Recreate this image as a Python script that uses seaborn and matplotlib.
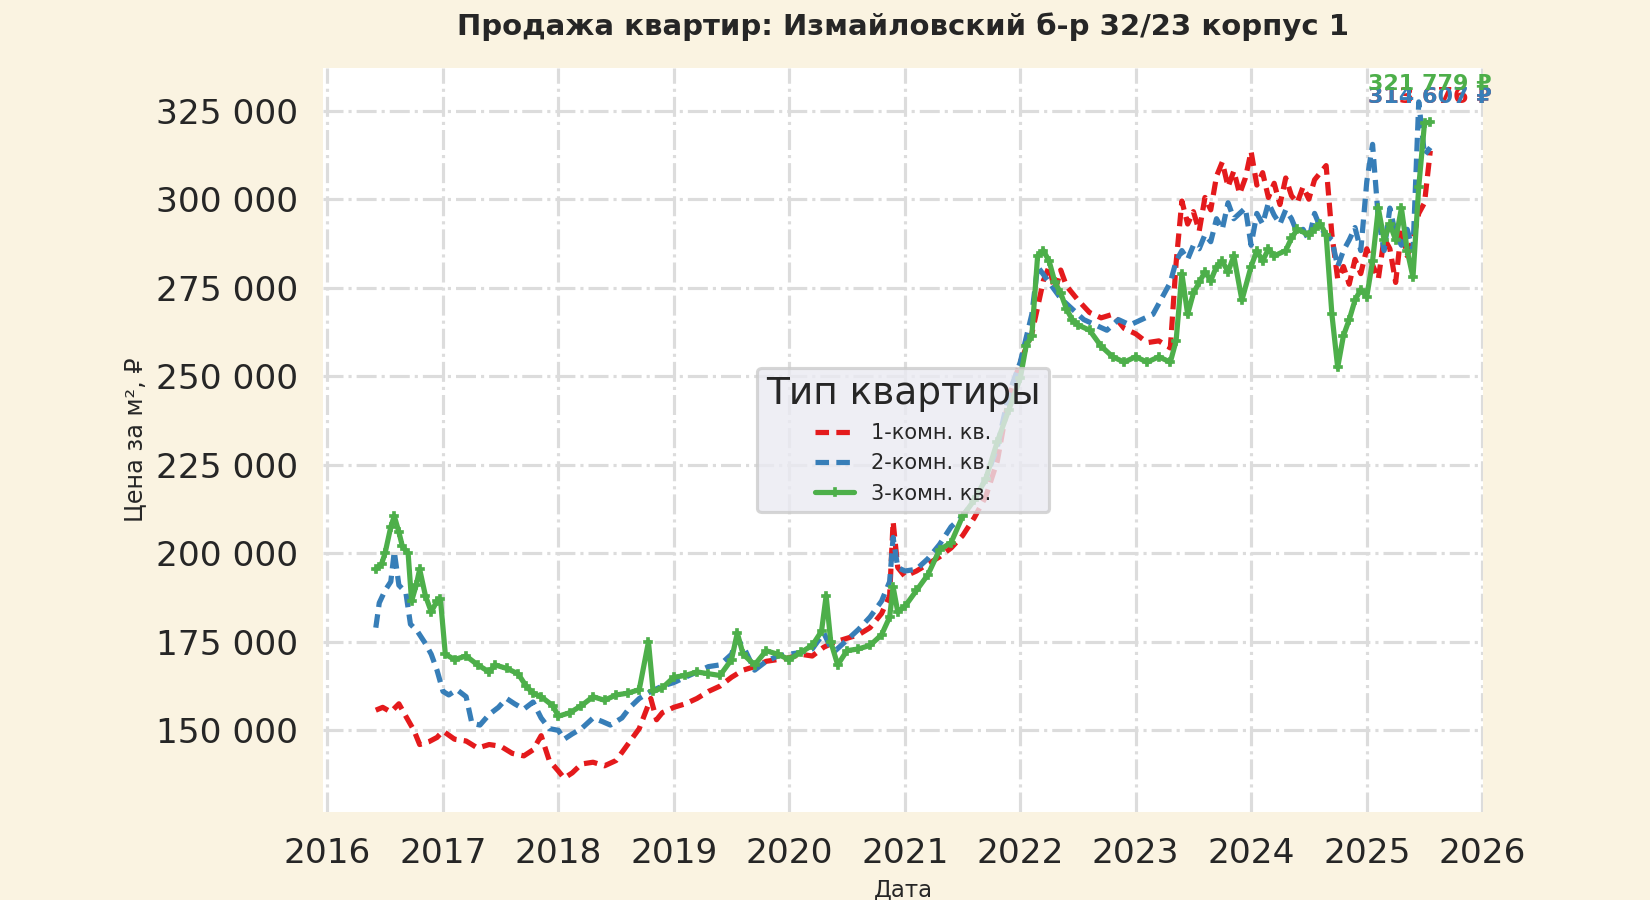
import numpy as np
import pandas as pd
import seaborn as sns
import matplotlib.pyplot as plt
import matplotlib.dates as mdates
from matplotlib.ticker import MultipleLocator, FuncFormatter

TITLE = 'Продажа квартир: Измайловский б-р 32/23 корпус 1'
LEGEND_TITLE = 'Тип квартиры'
NAMES = ['1-комн. кв.', '2-комн. кв.', '3-комн. кв.']
COLORS = ['#E41A1C', '#377EB8', '#4DAF4A']

# dates as decimal years, prices per m2 in rubles
red_t = [2016.42, 2016.48, 2016.55, 2016.62, 2016.68, 2016.75, 2016.8, 2016.88, 2016.95,
         2017.0, 2017.1, 2017.2, 2017.3, 2017.4, 2017.5, 2017.6, 2017.7, 2017.78, 2017.85, 2017.92,
         2018.0, 2018.05, 2018.12, 2018.2, 2018.3, 2018.4, 2018.5, 2018.6, 2018.7, 2018.8, 2018.85, 2018.9,
         2019.0, 2019.1, 2019.2, 2019.3, 2019.4, 2019.5, 2019.6, 2019.7, 2019.8, 2019.9,
         2020.0, 2020.1, 2020.2, 2020.3, 2020.4, 2020.5, 2020.6, 2020.7, 2020.8, 2020.87, 2020.9, 2020.94,
         2021.0, 2021.1, 2021.2, 2021.3, 2021.4, 2021.5, 2021.6, 2021.7, 2021.8, 2021.9,
         2022.0, 2022.1, 2022.2, 2022.25, 2022.3, 2022.35, 2022.4, 2022.5, 2022.6, 2022.7, 2022.8, 2022.9,
         2023.0, 2023.1, 2023.2, 2023.3, 2023.35, 2023.4, 2023.45, 2023.5, 2023.55, 2023.6, 2023.65,
         2023.7, 2023.75, 2023.8, 2023.85, 2023.9, 2023.95,
         2024.0, 2024.05, 2024.1, 2024.15, 2024.2, 2024.25, 2024.3, 2024.35, 2024.4, 2024.45, 2024.5,
         2024.55, 2024.6, 2024.65, 2024.7, 2024.75, 2024.8, 2024.85, 2024.9, 2024.95,
         2025.0, 2025.05, 2025.1, 2025.15, 2025.2, 2025.25, 2025.3, 2025.35, 2025.4, 2025.45, 2025.5, 2025.55]
red_v = [155700, 156500, 155200, 157500, 154000, 150000, 146000, 146800, 148000,
         149800, 147500, 147000, 145000, 146000, 145500, 143500, 142800, 144500, 148500, 141500,
         138500, 136500, 138000, 140500, 141000, 140000, 141500, 146000, 150500, 159000, 153000, 155000,
         156500, 157500, 159000, 161000, 162500, 165000, 167000, 168000, 169500, 170000,
         170500, 171500, 171000, 173500, 175000, 176000, 177000, 179000, 183000, 188000, 209000, 196000,
         193500, 195000, 197000, 199000, 201500, 205000, 210000, 216000, 226000, 244000,
         254000, 262000, 277000, 281000, 274000, 280000, 275500, 271500, 268000, 266500, 267500, 263500,
         262000, 259500, 260000, 258000, 282000, 299500, 293000, 296500, 291000, 300500, 297000,
         306500, 310500, 303500, 308000, 301500, 306000,
         313500, 304000, 307500, 300500, 304500, 298500, 306000, 301000, 299000, 303500, 300000,
         305500, 307500, 309500, 290000, 277500, 281000, 276000, 283000, 279000,
         286000, 281500, 277500, 289000, 286000, 276500, 291500, 284000, 288500, 296000, 299000, 313676]

blue_t = [2016.42, 2016.45, 2016.5, 2016.55, 2016.58, 2016.62, 2016.68, 2016.72, 2016.78, 2016.85, 2016.9, 2016.95,
          2017.0, 2017.05, 2017.12, 2017.2, 2017.25, 2017.32, 2017.4, 2017.48, 2017.55, 2017.62, 2017.7,
          2017.78, 2017.85, 2017.92,
          2018.0, 2018.05, 2018.12, 2018.2, 2018.3, 2018.38, 2018.45, 2018.55, 2018.62, 2018.7, 2018.8, 2018.9,
          2019.0, 2019.1, 2019.2, 2019.3, 2019.4, 2019.5, 2019.55, 2019.62, 2019.7, 2019.8, 2019.9,
          2020.0, 2020.1, 2020.2, 2020.3, 2020.35, 2020.4, 2020.5, 2020.6, 2020.7, 2020.8, 2020.87, 2020.9, 2020.94,
          2021.0, 2021.1, 2021.2, 2021.3, 2021.4, 2021.5, 2021.6, 2021.7, 2021.8, 2021.9,
          2022.0, 2022.1, 2022.15, 2022.25, 2022.35, 2022.45, 2022.55, 2022.65, 2022.75, 2022.85, 2022.95,
          2023.05, 2023.15, 2023.25, 2023.3, 2023.35, 2023.4, 2023.45, 2023.5, 2023.55, 2023.6, 2023.65,
          2023.7, 2023.75, 2023.8, 2023.85, 2023.9, 2023.95,
          2024.0, 2024.05, 2024.1, 2024.15, 2024.2, 2024.25, 2024.3, 2024.35, 2024.4, 2024.45, 2024.5,
          2024.55, 2024.6, 2024.65, 2024.7, 2024.75, 2024.8, 2024.85, 2024.9, 2024.95,
          2025.0, 2025.05, 2025.1, 2025.15, 2025.2, 2025.25, 2025.3, 2025.35, 2025.4, 2025.45, 2025.5, 2025.55]
blue_v = [179000, 186000, 189500, 192000, 200500, 191000, 189000, 180000, 178000, 174500, 171500, 167000,
          161000, 160000, 161500, 159500, 152000, 151500, 154500, 156500, 159000, 157500, 156000,
          158000, 153500, 150500,
          150000, 147500, 149000, 150500, 153500, 152500, 151500, 153500, 156500, 159000, 161000, 162500,
          163500, 165000, 166500, 168000, 168500, 171500, 176000, 172500, 167000, 169500, 171000,
          171500, 172000, 173000, 177500, 174000, 172500, 175500, 178500, 182000, 186500, 192000, 204500, 196000,
          195000, 195500, 198500, 202500, 207500, 210500, 215000, 221000, 230000, 245000,
          254000, 267500, 281000, 276500, 272000, 269000, 266000, 264500, 263000, 266000, 264500,
          266000, 267500, 273500, 276500, 282500, 285500, 283000, 287000, 286000, 290000, 288000,
          294500, 291500, 299000, 294500, 296000, 297500,
          287000, 296000, 293000, 299000, 295500, 293000, 297000, 294500, 290500, 291500, 288500,
          296000, 292000, 290000, 288500, 281000, 285500, 288500, 292000, 285500,
          305000, 315500, 294500, 285500, 297500, 290000, 287000, 291500, 285500, 327500, 312500, 314607]

green_t = [2016.42, 2016.47, 2016.5, 2016.55, 2016.58, 2016.62, 2016.65, 2016.7, 2016.73, 2016.77, 2016.8,
           2016.85, 2016.9, 2016.95, 2016.98,
           2017.02, 2017.1, 2017.2, 2017.3, 2017.4, 2017.45, 2017.55, 2017.65, 2017.72, 2017.78, 2017.85, 2017.95,
           2018.0, 2018.1, 2018.2, 2018.3, 2018.4, 2018.5, 2018.6, 2018.7, 2018.78, 2018.82, 2018.9,
           2019.0, 2019.1, 2019.2, 2019.3, 2019.4, 2019.5, 2019.55, 2019.6, 2019.7, 2019.8, 2019.9,
           2020.0, 2020.1, 2020.2, 2020.28, 2020.32, 2020.36, 2020.42, 2020.5, 2020.6, 2020.7, 2020.8,
           2020.87, 2020.9, 2020.94,
           2021.0, 2021.1, 2021.2, 2021.3, 2021.4, 2021.5, 2021.6, 2021.7, 2021.8, 2021.9,
           2022.0, 2022.05, 2022.1, 2022.15, 2022.2, 2022.25, 2022.3, 2022.35, 2022.4, 2022.45, 2022.5,
           2022.6, 2022.7, 2022.8, 2022.9,
           2023.0, 2023.1, 2023.2, 2023.3, 2023.35, 2023.4, 2023.45, 2023.5, 2023.55, 2023.6, 2023.65,
           2023.7, 2023.75, 2023.8, 2023.85, 2023.92,
           2024.0, 2024.05, 2024.1, 2024.15, 2024.2, 2024.3, 2024.35, 2024.4, 2024.5, 2024.55, 2024.6,
           2024.65, 2024.7, 2024.75, 2024.8, 2024.85, 2024.9, 2024.95,
           2025.0, 2025.05, 2025.1, 2025.15, 2025.2, 2025.25, 2025.3, 2025.35, 2025.4, 2025.45, 2025.5, 2025.55]
green_v = [195500, 197000, 200000, 207500, 210500, 206000, 202000, 200000, 186500, 191000, 195500,
           188000, 183500, 186500, 187000,
           171500, 170000, 171000, 168500, 166500, 168500, 167500, 166000, 162500, 160500, 159500, 157000,
           154000, 155000, 157000, 159500, 158500, 160000, 160500, 161500, 175000, 161000, 162000,
           165000, 165500, 166500, 166000, 165500, 170000, 177500, 171500, 168500, 172500, 171500,
           170000, 172000, 174000, 178000, 188000, 175000, 168500, 172500, 173000, 174000, 177000,
           182000, 190500, 183500,
           185000, 189500, 194000, 201000, 203000, 210500, 215000, 221000, 231500, 240500,
           249500, 258500, 261500, 284000, 285500, 282500, 276500, 273500, 269000, 266000, 264500,
           263000, 258500, 255500, 254000,
           255500, 254000, 255500, 254000, 260000, 279000, 267500, 273500, 276500, 279500, 277000,
           281000, 282500, 279500, 284000, 271500,
           281000, 285500, 282500, 286000, 284000, 285500, 289000, 291500, 290000, 291500, 293000,
           290000, 267500, 252500, 261500, 266000, 271500, 274500,
           272500, 282500, 297500, 288500, 293000, 288500, 297500, 285500, 278000, 303500, 321500, 321779]


def to_dates(years):
    years = np.asarray(years, dtype=float)
    base = pd.to_datetime(years.astype(int).astype(str), format='%Y')
    return base + pd.to_timedelta((years % 1) * 365.25, unit='D')


def rub(x, pos=None):
    return f'{x:,.0f}'.replace(',', ' ')


sns.set_theme(context='talk', style='darkgrid')

fig, ax = plt.subplots(figsize=(11, 6), dpi=150)
fig.patch.set_facecolor('#FAF3E1')
ax.set_facecolor('white')
fig.subplots_adjust(left=0.1958, right=0.8988, bottom=0.0978, top=0.9244)

series = [(red_t, red_v), (blue_t, blue_v), (green_t, green_v)]
styles = [dict(linestyle=(0, (2.6, 1.4))), dict(linestyle=(0, (2.6, 1.4))),
          dict(linestyle='-', marker='P', markersize=4)]

for (t, v), name, color, st in zip(series, NAMES, COLORS, styles):
    sns.lineplot(x=to_dates(t), y=v, ax=ax, color=color, linewidth=2.5, label=name,
                 markeredgecolor=color, markeredgewidth=0.8, **st)

# last value labels
label_y = [0.953, 0.953, 0.970]
for (t, v), color, yf in zip(series, COLORS, label_y):
    ax.text(to_dates([t[-1]])[0], yf, rub(v[-1]) + ' ₽', transform=ax.get_xaxis_transform(),
            ha='center', va='baseline', fontsize=10.7, fontweight='bold', color=color)

ax.xaxis.set_major_locator(mdates.YearLocator())
ax.xaxis.set_major_formatter(mdates.DateFormatter('%Y'))
ax.yaxis.set_major_locator(MultipleLocator(25000))
ax.yaxis.set_major_formatter(FuncFormatter(rub))

ax.grid(True, linestyle='-.', color='#DCDCDC', linewidth=1.5)
for s in ax.spines.values():
    s.set_visible(False)
ax.tick_params(length=0, pad=12, labelsize=16.5, colors='#262626')

ax.set_title(TITLE, fontsize=14, fontweight='bold', pad=16, color='#262626')
ax.set_xlabel('Дата', fontsize=11, labelpad=4, color='#262626')
ax.set_ylabel('Цена за м², ₽', fontsize=11.5, labelpad=4, color='#262626')

ax.legend(title=LEGEND_TITLE, loc='center', fontsize=10, title_fontsize=18,
          facecolor='#EAEAF2', edgecolor='0.8', framealpha=0.8, handlelength=1.9)

fig.savefig('out.png', dpi=150, facecolor=fig.get_facecolor())
